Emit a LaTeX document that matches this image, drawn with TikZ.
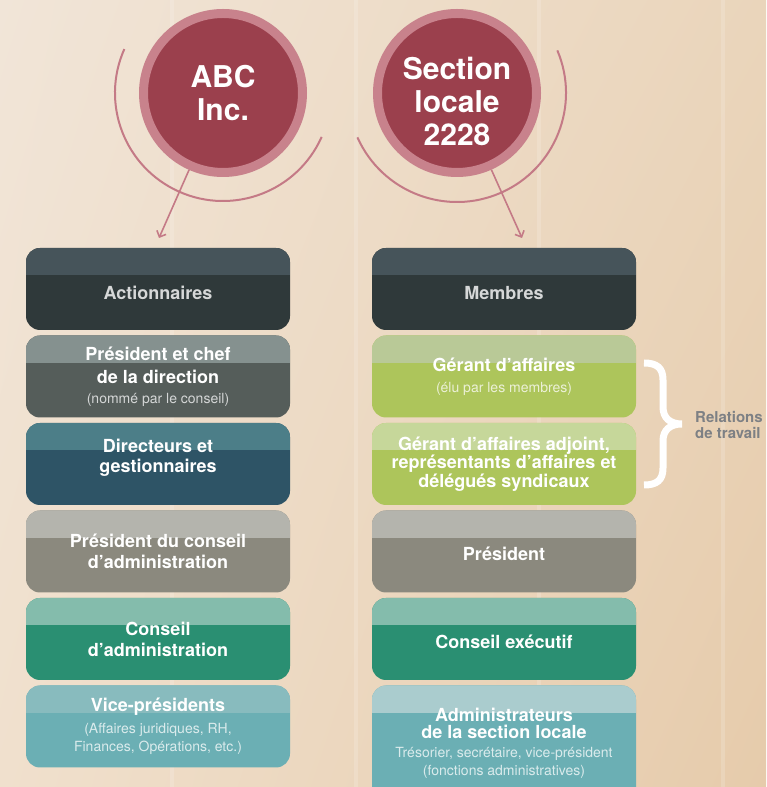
\documentclass[tikz,border=0pt]{standalone}
\usepackage{fontspec}
\setmainfont{TeX Gyre Heros}
\usetikzlibrary{positioning,arrows.meta,shadings}

\definecolor{bgUL}{HTML}{F1E5D8}
\definecolor{bgUR}{HTML}{EAD5BB}
\definecolor{bgLL}{HTML}{F0E0CD}
\definecolor{bgLR}{HTML}{E6CBAB}
\definecolor{ringcol}{HTML}{C8828C}
\definecolor{discol}{HTML}{9B404D}
\definecolor{arccol}{HTML}{C47A86}
\definecolor{darkband}{HTML}{46545A}
\definecolor{darkbase}{HTML}{2F393A}
\definecolor{greyband}{HTML}{85918F}
\definecolor{greybase}{HTML}{555D5A}
\definecolor{blueband}{HTML}{4C7E88}
\definecolor{bluebase}{HTML}{2E5466}
\definecolor{stoneband}{HTML}{B4B4AD}
\definecolor{stonebase}{HTML}{8B897E}
\definecolor{greenband}{HTML}{84BCAC}
\definecolor{greenbase}{HTML}{2A8F72}
\definecolor{tealband}{HTML}{88BBBE}
\definecolor{tealbase}{HTML}{6BAFB4}
\definecolor{limeband}{HTML}{B9C997}
\definecolor{limebandb}{HTML}{C6D79A}
\definecolor{limebase}{HTML}{ADC55B}
\definecolor{paleband}{HTML}{AACCCE}
\definecolor{darktext}{HTML}{D6D8D8}
\definecolor{relgray}{HTML}{7D8084}

\newcommand{\sublabel}[1]{{\fontsize{14}{18}\selectfont\mdseries\color{white!75!boxcol}#1}}

\begin{document}
\begin{tikzpicture}[x=1pt,y=1pt,
    disc/.style={circle, draw=ringcol, line width=9pt, fill=discol, minimum size=159pt,
      inner sep=0pt, text=white, align=center, font=\fontsize{30}{33}\selectfont\bfseries},
    arcline/.style={draw=arccol, line width=2pt},
    link/.style={draw=arccol, line width=1.6pt, -{Straight Barb[length=5pt,width=10pt]}},
    box/.style 2 args={rectangle, rounded corners=14pt, minimum width=264pt, minimum height=82pt,
      inner sep=0pt, outer sep=0pt, fill=#2, text=white, align=center,
      font=\fontsize{18}{21}\selectfont\bfseries,
      execute at begin node={\xglobal\colorlet{boxcol}{#2}},
      path picture={\fill[#1, sharp corners] (path picture bounding box.north west)
        rectangle ([yshift=-27.5pt]path picture bounding box.north east);}},
    node distance=5.5pt]

    % Background
    \useasboundingbox (0,0) rectangle (766,787);
    \clip (0,0) rectangle (766,787);
    \shade[upper left=bgUL, upper right=bgUR, lower left=bgLL, lower right=bgLR] (0,0) rectangle (766,787);
    \foreach \x in {172,356,539,723}
        \draw[white, opacity=0.16, line width=4pt] (\x,0) -- (\x,787);

    % Circles
    \node[disc] (abc) at (223,694) {ABC\\Inc.};
    \node[disc, text height=105pt] (sl) at (457,694) {Section\\locale\\2228};
    \draw[arcline] (abc.center) ++(156:108) arc[start angle=156, end angle=336, radius=108];
    \draw[arcline] (sl.center) ++(204:109) arc[start angle=204, end angle=383, radius=109];

    % Arrows
    \coordinate (abcend) at (159,549);
    \coordinate (slend) at (522,549);
    \draw[link] (abc) -- (abcend);
    \draw[link] (sl) -- (slend);

    % Left column
    \node[box={darkband}{darkbase}, text=darktext, text height=21pt] (act) at (158,498) {Actionnaires};
    \node[box={greyband}{greybase}, below=of act] (pdg)
        {Président et chef\\[2pt]de la direction\\[-1pt]\sublabel{(nommé par le conseil)}};
    \node[box={blueband}{bluebase}, text depth=17pt, below=of pdg] (dir) {Directeurs et\\[-1pt]gestionnaires};
    \node[box={stoneband}{stonebase}, below=of dir] (pca) {Président du conseil\\d’administration};
    \node[box={greenband}{greenbase}, below=of pca] (ca) {Conseil\\d’administration};
    \node[box={tealband}{tealbase}, below=of ca] (vp)
        {Vice-présidents\\[1pt]\sublabel{(Affaires juridiques, RH,}\\[-3pt]\sublabel{Finances, Opérations, etc.)}};

    % Right column
    \node[box={darkband}{darkbase}, text=darktext, text height=21pt] (mem) at (504,498) {Membres};
    \node[box={limeband}{limebase}, below=of mem] (ga)
        {Gérant d’affaires\\\sublabel{(élu par les membres)}};
    \node[box={limebandb}{limebase}, below=of ga] (gaa)
        {Gérant d’affaires adjoint,\\[-2.5pt]représentants d’affaires et\\[-2.5pt]délégués syndicaux};
    \node[box={stoneband}{stonebase}, text height=19pt, below=of gaa] (pres) {Président};
    \node[box={greenband}{greenbase}, text height=20pt, below=of pres] (ce) {Conseil exécutif};
    \node[box={paleband}{tealbase}, minimum height=116pt, below=of ce] (adm)
        {Administrateurs\\[-4pt]de la section locale\\[-2pt]\sublabel{Trésorier, secrétaire, vice-président}\\[-3pt]\sublabel{(fonctions administratives)}};

    % Brace
    \draw[white, line width=7pt] (644,424) .. controls (657,424) and (663,419) .. (663,407)
        -- (663,380) .. controls (663,369) and (670,363) .. (682,363)
        .. controls (670,363) and (663,357) .. (663,346)
        -- (663,319) .. controls (663,307) and (657,302) .. (644,302);
    \node[anchor=west, align=left, inner sep=0pt, text=relgray, font=\fontsize{15}{16}\selectfont\bfseries] (rel)
        at (695,362.5) {Relations\\de travail};
\end{tikzpicture}
\end{document}
